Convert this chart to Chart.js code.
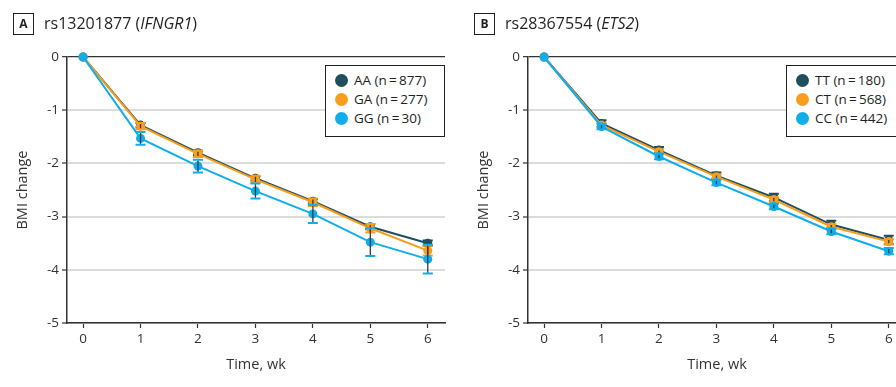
<!DOCTYPE html>
<html lang="en">
<head>
<meta charset="UTF-8">
<title>BMI change by genotype</title>
<script src="https://cdn.jsdelivr.net/npm/chart.js@4.4.1/dist/chart.umd.min.js"></script>
<style>
    * { margin: 0; padding: 0; box-sizing: border-box; }
    body { width: 896px; height: 387px; overflow: hidden; background: #fff; font-family: 'Open Sans', sans-serif; color: #231f20; position: relative; }
    .panel { position: absolute; top: 0; width: 450px; height: 387px; }
    .panel canvas { position: absolute; left: 0; top: 0; }
    .tag { position: absolute; left: 13px; top: 13px; width: 21px; height: 22px; border: 1px solid #231f20; font-weight: bold; font-size: 12px; text-align: center; line-height: 20px; }
    .title { position: absolute; left: 44px; top: 12px; font-size: 16px; line-height: 22px; white-space: nowrap; }
    .legend { position: absolute; left: 325px; top: 65px; width: 120px; height: 72px; border: 1px solid #231f20; background: #fff; font-size: 13.5px; padding-top: 5px; }
    .legend div { height: 19px; line-height: 19px; white-space: nowrap; padding-left: 28px; position: relative; }
    .legend span { position: absolute; left: 9px; top: 3px; width: 13px; height: 13px; border-radius: 50%; }
</style>
</head>
<body>
<div class="panel" style="left:0">
    <canvas id="chartA" width="450" height="387"></canvas>
    <div class="tag">A</div>
    <div class="title">rs13201877 (<i>IFNGR1</i>)</div>
    <div class="legend" id="legendA"></div>
</div>
<div class="panel" style="left:461px">
    <canvas id="chartB" width="450" height="387"></canvas>
    <div class="tag">B</div>
    <div class="title">rs28367554 (<i>ETS2</i>)</div>
    <div class="legend" id="legendB"></div>
</div>
<script>
    const weeks = [0, 1, 2, 3, 4, 5, 6];

    // panel A - IFNGR1
    const aaMean = [0, -1.28, -1.80, -2.28, -2.71, -3.19, -3.50];
    const aaErr  = [0, 0.04, 0.04, 0.04, 0.04, 0.05, 0.05];
    const gaMean = [0, -1.30, -1.82, -2.30, -2.73, -3.22, -3.64];
    const gaErr  = [0, 0.06, 0.06, 0.07, 0.07, 0.08, 0.09];
    const ggMean = [0, -1.53, -2.05, -2.52, -2.95, -3.48, -3.80];
    const ggErr  = [0, 0.12, 0.12, 0.14, 0.17, 0.26, 0.27];

    // panel B - ETS2
    const ttMean = [0, -1.25, -1.75, -2.23, -2.64, -3.15, -3.44];
    const ttErr  = [0, 0.06, 0.06, 0.06, 0.07, 0.07, 0.08];
    const ctMean = [0, -1.28, -1.78, -2.25, -2.68, -3.19, -3.47];
    const ctErr  = [0, 0.04, 0.04, 0.04, 0.05, 0.05, 0.05];
    const ccMean = [0, -1.31, -1.87, -2.36, -2.81, -3.28, -3.65];
    const ccErr  = [0, 0.05, 0.05, 0.05, 0.05, 0.05, 0.06];

    const labelsA = ['AA (n\u2009=\u2009877)', 'GA (n\u2009=\u2009277)', 'GG (n\u2009=\u200930)'];
    const labelsB = ['TT (n\u2009=\u2009180)', 'CT (n\u2009=\u2009568)', 'CC (n\u2009=\u2009442)'];

    const colors = ['#1f4f5f', '#f99d1c', '#0fadea'];

    // error bars: dark stem, coloured caps, drawn right after each dataset
    const errorBars = {
        id: 'errorBars',
        afterDatasetDraw(chart, args) {
            const ds = chart.data.datasets[args.index];
            const xs = chart.scales.x, ys = chart.scales.y;
            const ctx = chart.ctx;
            ctx.save();
            ds.err.forEach((e, i) => {
                if (!e) return;
                const px = xs.getPixelForValue(weeks[i]);
                const top = ys.getPixelForValue(ds.data[i] + e);
                const bot = ys.getPixelForValue(ds.data[i] - e);
                ctx.strokeStyle = '#3b3b3b';
                ctx.lineWidth = 1.3;
                ctx.beginPath(); ctx.moveTo(px, top); ctx.lineTo(px, bot); ctx.stroke();
                ctx.strokeStyle = ds.borderColor;
                ctx.lineWidth = 2;
                ctx.beginPath();
                ctx.moveTo(px - 5, top); ctx.lineTo(px + 5, top);
                ctx.moveTo(px - 5, bot); ctx.lineTo(px + 5, bot);
                ctx.stroke();
            });
            ctx.restore();
        }
    };

    function makeChart(id, means, errs, labels, legendId) {
        const datasets = means.map((m, k) => ({
            label: labels[k],
            data: m,
            err: errs[k],
            borderColor: colors[k],
            backgroundColor: colors[k],
            borderWidth: 2,
            pointRadius: 4.5,
            pointBorderWidth: 0,
            clip: false,
            order: 2 - k
        }));

        new Chart(document.getElementById(id), {
            type: 'line',
            data: { labels: weeks, datasets: datasets },
            options: {
                responsive: false,
                devicePixelRatio: 1,
                animation: false,
                layout: { padding: { top: 57, right: 5, left: 0, bottom: 0 } },
                plugins: { legend: { display: false }, tooltip: { enabled: false } },
                scales: {
                    x: {
                        type: 'linear',
                        min: -0.28, max: 6.3,
                        afterBuildTicks: s => { s.ticks = weeks.map(v => ({ value: v })); },
                        afterFit: s => { s.height = 64; },
                        grid: { drawOnChartArea: false, drawTicks: true, tickLength: 5, tickColor: '#333', tickWidth: 1.2 },
                        border: { color: '#333', width: 1.5 },
                        ticks: { color: '#333', font: { family: 'Open Sans', size: 13.5 }, padding: 3 },
                        title: { display: true, text: 'Time, wk', color: '#333', font: { family: 'Open Sans', size: 14.5 }, padding: { top: 0, bottom: 13 } }
                    },
                    y: {
                        min: -5, max: 0,
                        ticks: { stepSize: 1, color: '#333', font: { family: 'Open Sans', size: 13.5 }, padding: 3 },
                        afterFit: s => { s.width = 67; },
                        grid: {
                            color: c => c.tick && c.tick.value === 0 ? '#333' : '#dcdcdc',
                            lineWidth: c => c.tick && c.tick.value === 0 ? 1.3 : 2,
                            tickColor: '#333', tickLength: 5, tickWidth: 1.2
                        },
                        border: { color: '#333', width: 1.5 },
                        title: { display: true, text: 'BMI change', color: '#333', font: { family: 'Open Sans', size: 14.5 }, padding: { top: 14, bottom: 0 } }
                    }
                }
            },
            plugins: [errorBars]
        });

        const lg = document.getElementById(legendId);
        labels.forEach((l, k) => {
            const row = document.createElement('div');
            row.innerHTML = '<span style="background:' + colors[k] + '"></span>' + l;
            lg.appendChild(row);
        });
    }

    makeChart('chartA', [aaMean, gaMean, ggMean], [aaErr, gaErr, ggErr], labelsA, 'legendA');
    makeChart('chartB', [ttMean, ctMean, ccMean], [ttErr, ctErr, ccErr], labelsB, 'legendB');
</script>
</body>
</html>
